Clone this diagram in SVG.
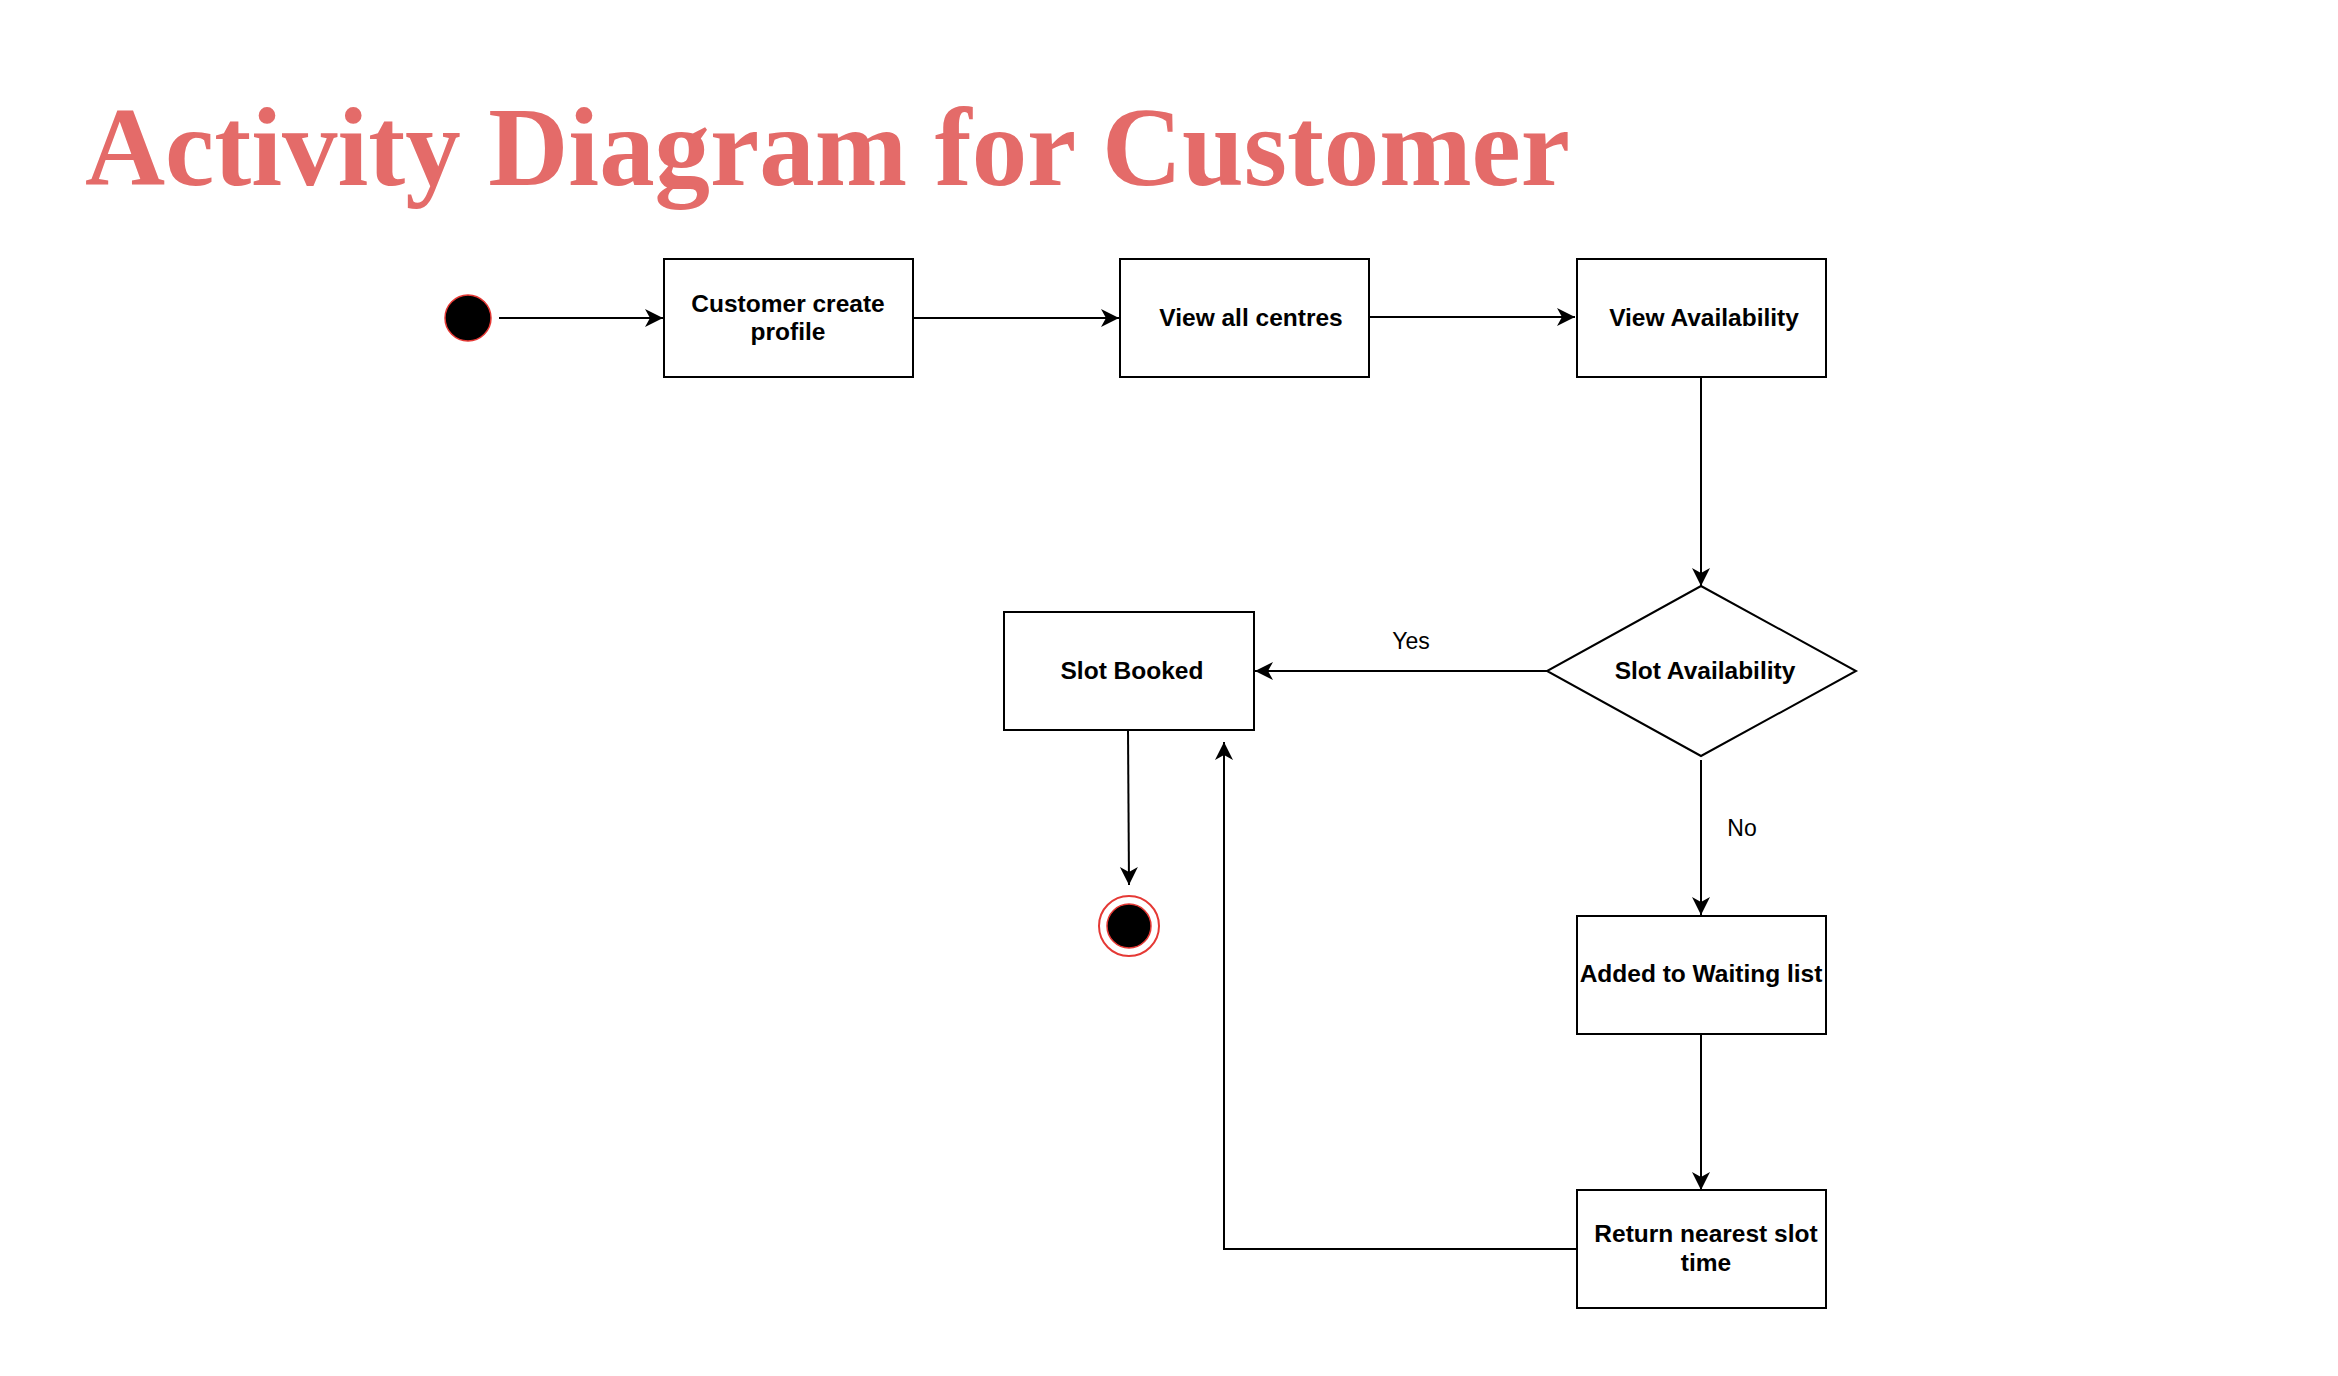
<svg xmlns="http://www.w3.org/2000/svg" width="2338" height="1376" viewBox="0 0 2338 1376">
  <style>
    .box { fill: #ffffff; stroke: #000000; stroke-width: 2; }
    .lbl { font-family: "Liberation Sans", Arial, Helvetica, sans-serif; font-weight: bold; font-size: 24.5px; fill: #000000; text-anchor: middle; }
    .edge { fill: none; stroke: #000000; stroke-width: 2; }
    .elbl { font-family: "Liberation Sans", Arial, Helvetica, sans-serif; font-size: 23px; fill: #000000; text-anchor: middle; }
    .title { font-family: "Liberation Serif", "Times New Roman", serif; font-weight: bold; font-size: 112px; fill: #E46B69; }
  </style>
  <defs>
    <marker id="arrow" markerUnits="userSpaceOnUse" markerWidth="22" markerHeight="22" viewBox="-20 -11 22 22" refX="0" refY="0" orient="auto">
      <path d="M0,0 L-18,-9 L-13,0 L-18,9 Z" fill="#000000"/>
    </marker>
  </defs>
  <rect width="2338" height="1376" fill="#ffffff"/>

  <text class="title" x="85" y="185" textLength="1485" lengthAdjust="spacingAndGlyphs">Activity Diagram for Customer</text>

  <g id="connectors">
    <line class="edge" x1="499" y1="318" x2="663" y2="318" marker-end="url(#arrow)"/>
    <line class="edge" x1="913" y1="318" x2="1119" y2="318" marker-end="url(#arrow)"/>
    <line class="edge" x1="1369" y1="317" x2="1575" y2="317" marker-end="url(#arrow)"/>
    <line class="edge" x1="1701" y1="377" x2="1701" y2="586" marker-end="url(#arrow)"/>
    <line class="edge" x1="1547" y1="671" x2="1255" y2="671" marker-end="url(#arrow)"/>
    <text class="elbl" x="1411" y="649">Yes</text>
    <line class="edge" x1="1701" y1="760" x2="1701" y2="915" marker-end="url(#arrow)"/>
    <text class="elbl" x="1742" y="836">No</text>
    <line class="edge" x1="1701" y1="1034" x2="1701" y2="1190" marker-end="url(#arrow)"/>
    <polyline class="edge" points="1577,1249 1224,1249 1224,742" marker-end="url(#arrow)"/>
    <line class="edge" x1="1128" y1="730" x2="1129" y2="885" marker-end="url(#arrow)"/>
  </g>

  <g id="start">
    <circle cx="468" cy="318" r="23" fill="#000000" stroke="#E53935" stroke-width="1.5"/>
  </g>

  <g id="customer-create-profile">
    <rect class="box" x="664" y="259" width="249" height="118"/>
    <text class="lbl" x="788" y="312">Customer create</text>
    <text class="lbl" x="788" y="340">profile</text>
  </g>

  <g id="view-all-centres">
    <rect class="box" x="1120" y="259" width="249" height="118"/>
    <text class="lbl" x="1251" y="326">View all centres</text>
  </g>

  <g id="view-availability">
    <rect class="box" x="1577" y="259" width="249" height="118"/>
    <text class="lbl" x="1704" y="326">View Availability</text>
  </g>

  <g id="slot-availability">
    <polygon class="box" points="1701,586 1856,671 1701,756 1547,671"/>
    <text class="lbl" x="1705" y="679">Slot Availability</text>
  </g>

  <g id="slot-booked">
    <rect class="box" x="1004" y="612" width="250" height="118"/>
    <text class="lbl" x="1132" y="679">Slot Booked</text>
  </g>

  <g id="end">
    <circle cx="1129" cy="926" r="30" fill="none" stroke="#E53935" stroke-width="2"/>
    <circle cx="1129" cy="926" r="22" fill="#000000" stroke="#E53935" stroke-width="1.5"/>
  </g>

  <g id="added-to-waiting-list">
    <rect class="box" x="1577" y="916" width="249" height="118"/>
    <text class="lbl" x="1701" y="982">Added to Waiting list</text>
  </g>

  <g id="return-nearest-slot-time">
    <rect class="box" x="1577" y="1190" width="249" height="118"/>
    <text class="lbl" x="1706" y="1242">Return nearest slot</text>
    <text class="lbl" x="1706" y="1271">time</text>
  </g>
</svg>
